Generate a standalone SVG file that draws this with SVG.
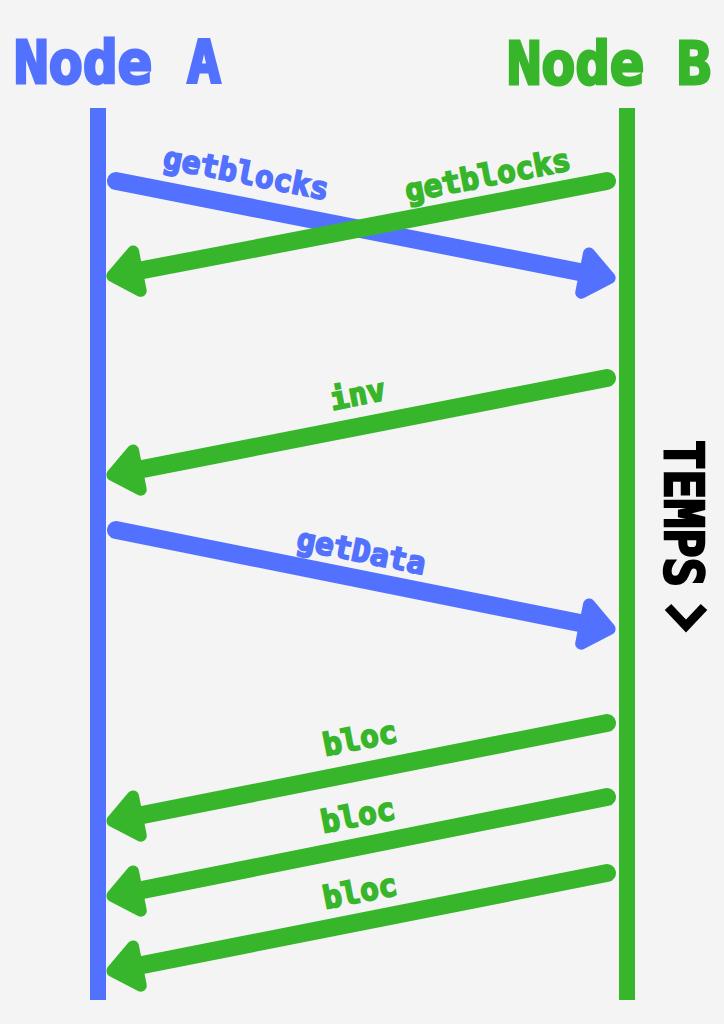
<svg xmlns="http://www.w3.org/2000/svg" width="724" height="1024" viewBox="0 0 724 1024">
<style>
.bg{fill:#F4F4F4}
.ttl{font-family:"DejaVu Sans Mono","Liberation Mono",monospace;font-weight:bold;font-size:58px;stroke-width:3;stroke-linejoin:miter}
.lbl{font-family:"DejaVu Sans Mono","Liberation Mono",monospace;font-weight:bold;font-size:31px;text-anchor:middle;stroke-width:1.8}
.blue{fill:#5271FF;stroke:#5271FF}
.green{fill:#38B62B;stroke:#38B62B}
.life{stroke:none}
.ab{stroke:#5271FF;stroke-width:18;stroke-linecap:round;fill:none;marker-end:url(#hb)}
.ag{stroke:#38B62B;stroke-width:18;stroke-linecap:round;fill:none;marker-end:url(#hg)}
</style>
<defs>
<marker id="hb" markerUnits="userSpaceOnUse" orient="auto" refX="12.5" refY="0" markerWidth="80" markerHeight="80" overflow="visible">
<path d="M2,-20 L27,0 L2,20 Z" fill="#5271FF" stroke="#5271FF" stroke-width="12" stroke-linejoin="round"/>
</marker>
<marker id="hg" markerUnits="userSpaceOnUse" orient="auto" refX="12.5" refY="0" markerWidth="80" markerHeight="80" overflow="visible">
<path d="M2,-20 L27,0 L2,20 Z" fill="#38B62B" stroke="#38B62B" stroke-width="12" stroke-linejoin="round"/>
</marker>
</defs>
<rect class="bg" x="0" y="0" width="724" height="1024"/>
<g id="nodeA">
<text class="ttl blue" x="14" y="83" textLength="138" lengthAdjust="spacingAndGlyphs">Node</text>
<text class="ttl blue" x="187" y="83" textLength="34" lengthAdjust="spacingAndGlyphs">A</text>
<rect class="blue life" x="90" y="108" width="16" height="892"/>
</g>
<g id="nodeB">
<text class="ttl green" x="507" y="84" textLength="137" lengthAdjust="spacingAndGlyphs">Node</text>
<text class="ttl green" x="677" y="84" textLength="34" lengthAdjust="spacingAndGlyphs">B</text>
<rect class="green life" x="619" y="108" width="16" height="892"/>
</g>
<g id="time">
<text transform="translate(665,440) rotate(90)" x="0" y="0" style="font-family:'DejaVu Sans Mono','Liberation Mono',monospace;font-weight:bold;font-size:53px;stroke:#000;stroke-width:2.5" fill="#000" textLength="147" lengthAdjust="spacingAndGlyphs">TEMPS</text>
<polyline points="668,607 686,626 704,607" fill="none" stroke="#000" stroke-width="9"/>
</g>
<g id="connectors">
<line class="ab" x1="116" y1="181" x2="595.4" y2="275.1"/>
<line class="ag" x1="607" y1="181" x2="126.6" y2="273.2"/>
<line class="ag" x1="607" y1="378" x2="126.6" y2="472.1"/>
<line class="ab" x1="116" y1="530" x2="595.4" y2="626.1"/>
<line class="ag" x1="607" y1="723" x2="126.6" y2="818.1"/>
<line class="ag" x1="607" y1="797" x2="126.6" y2="893.1"/>
<line class="ag" x1="607" y1="873" x2="126.6" y2="968.1"/>
<text class="lbl blue" transform="translate(246,175) rotate(11.1)" y="9">getblocks</text>
<text class="lbl green" transform="translate(488,177) rotate(-11)" y="9">getblocks</text>
<text class="lbl green" transform="translate(358,396) rotate(-11)" y="9">inv</text>
<text class="lbl blue" transform="translate(361,553) rotate(11.3)" y="9">getData</text>
<text class="lbl green" transform="translate(360,739) rotate(-11)" y="10">bloc</text>
<text class="lbl green" transform="translate(358,816) rotate(-11)" y="10">bloc</text>
<text class="lbl green" transform="translate(360,892) rotate(-11)" y="10">bloc</text>
</g>
</svg>
